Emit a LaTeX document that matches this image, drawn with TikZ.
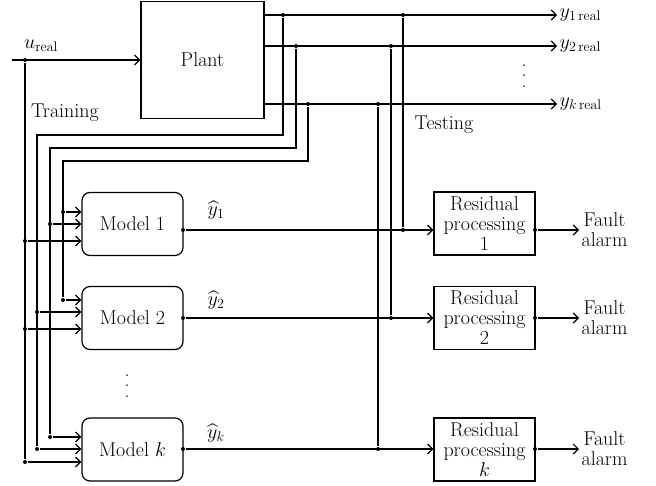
\RequirePackage{fix-cm}
\documentclass[tikz,border=0pt]{standalone}
\usepackage{amsmath}
\usepackage{amssymb}
\usepackage{tikz}
\usetikzlibrary{arrows.meta,positioning}
\tikzset{
  blk/.style={ draw, minimum width=101pt, minimum height=63pt, inner sep=0pt, align=center }
}
\tikzset{
  mdl/.style={ blk, rounded corners=8pt }
}
\tikzset{
  jdot/.style={ circle, fill, inner sep=0pt, minimum size=4pt }
}
\tikzset{
  lbl/.style={ inner sep=2pt, align=center }
}
\tikzset{
  vdt/.style={ inner sep=0pt, align=center, font=\fontsize{20}{10.5}\selectfont }
}

\begin{document}
\begin{tikzpicture}[x=1pt, y=-1pt, line width=1.2pt,
    >={Straight Barb[length=5pt,width=10pt]},
    font=\fontsize{20}{20}\selectfont]
      \useasboundingbox (0,0) rectangle (656,485);
      \node[draw, minimum width=123pt, minimum height=117pt] (plant) at (202.5,60) {Plant};
      \node[lbl] (u) at (41,46) {$u_{\mathrm{real}}$};
      \coordinate (uin) at (12,60);
      \node[jdot] (ju) at (25,60) {};
      \draw[->] (uin) -- (plant.west);
      % outputs of the plant
      \node[lbl, anchor=west] (y1) at (557,15) {$y_{1\,\mathrm{real}}$};
      \node[lbl, anchor=west] (y2) at (557,46) {$y_{2\,\mathrm{real}}$};
      \node[lbl, anchor=west] (yk) at (557,104) {$y_{k\,\mathrm{real}}$};
      \node[vdt] (vd) at (524,76) {.\\.\\.};
      \draw[->] (plant.east |- y1.west) -- (y1.west);
      \draw[->] (plant.east |- y2.west) -- (y2.west);
      \draw[->] (plant.east |- yk.west) -- (yk.west);
      \node[jdot] (j1a) at (283,15) {};
      \node[jdot] (j2a) at (296,46) {};
      \node[jdot] (jka) at (308,104) {};
      \node[jdot] (j1b) at (403,15) {};
      \node[jdot] (j2b) at (391,46) {};
      \node[jdot] (jkb) at (378,104) {};
      \node[lbl] (train) at (65,113) {Training};
      \node[lbl] (test) at (444,125) {Testing};
      % models
      \node[mdl] (m1) at (132.5,224) {Model 1};
      \node[mdl] (m2) at (132.5,318) {Model 2};
      \node[mdl] (mk) at (132.5,449.5) {Model $k$};
      \node[vdt] (vm) at (127,386) {.\\.\\.};
      \node[jdot] (a1) at (63,212) {};
      \node[jdot] (b1) at (50,224) {};
      \node[jdot] (c1) at (25,241) {};
      \node[jdot] (a2) at (63,300) {};
      \node[jdot] (b2) at (37,312) {};
      \node[jdot] (c2) at (25,329) {};
      \node[jdot] (ak) at (50,437) {};
      \node[jdot] (bk) at (37,449) {};
      \node[jdot] (ck) at (25,462) {};
      \foreach \n in {a1,b1,c1,a2,b2,c2} {
        \draw[->] (\n) -- (m1.west |- \n);
      }
      \foreach \n in {ak,bk,ck} {
        \draw[->] (\n) -- (mk.west |- \n);
      }
      % training buses
      \coordinate (t1) at (37,135);
      \coordinate (t2) at (50,148);
      \coordinate (tk) at (63,161);
      \draw (j1a) |- (t1) -- (bk);
      \draw (j2a) |- (t2) -- (ak);
      \draw (jka) |- (tk) -- (a2);
      \draw (ju) -- (ck);
      % residual processing
      \node[blk] (r1) at (484.5,223.5) {Residual\\processing\\1};
      \node[blk] (r2) at (484.5,318) {Residual\\processing\\2};
      \node[blk] (rk) at (484.5,449.5) {Residual\\processing\\$k$};
      \node[jdot] (e1) at (183,230) {};
      \node[jdot] (e2) at (183,318) {};
      \node[jdot] (ek) at (183,449) {};
      \node[lbl] at (216,210) {$\widehat{y}_1$};
      \node[lbl] at (216,300) {$\widehat{y}_2$};
      \node[lbl] at (216,433) {$\widehat{y}_k$};
      \node[jdot] (s1) at (403,230) {};
      \node[jdot] (s2) at (391,318) {};
      \node[jdot] (sk) at (378,449) {};
      \draw[->] (e1) -- (r1.west |- e1);
      \draw[->] (e2) -- (r2.west |- e2);
      \draw[->] (ek) -- (rk.west |- ek);
      \draw (j1b) -- (s1);
      \draw (j2b) -- (s2);
      \draw (jkb) -- (sk);
      % alarms
      \node[jdot] (q1) at (535,230) {};
      \node[jdot] (q2) at (535,318) {};
      \node[jdot] (qk) at (535,449) {};
      \node[lbl, anchor=west] (f1) at (579,230) {Fault\\alarm};
      \node[lbl, anchor=west] (f2) at (579,318) {Fault\\alarm};
      \node[lbl, anchor=west] (fk) at (579,449) {Fault\\alarm};
      \draw[->] (q1) -- (f1.west);
      \draw[->] (q2) -- (f2.west);
      \draw[->] (qk) -- (fk.west);
    \end{tikzpicture}
\end{document}
